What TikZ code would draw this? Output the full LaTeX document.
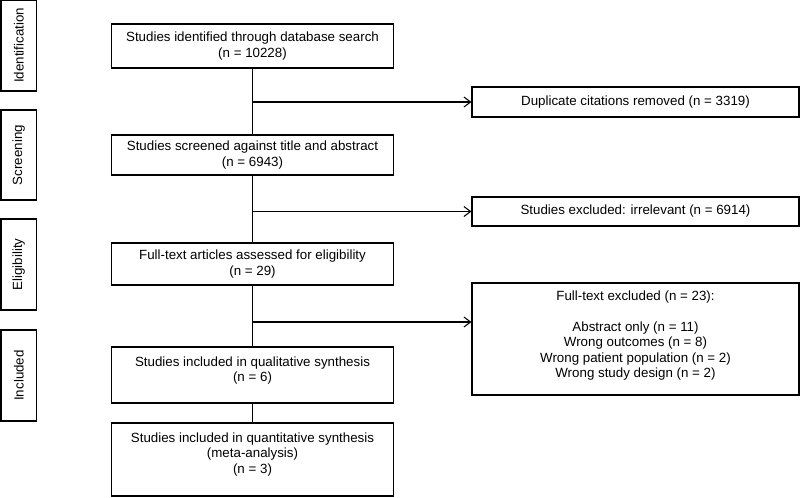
\documentclass[tikz,border=0pt]{standalone}
\usepackage{fontspec}
\setmainfont{Liberation Sans}
\usetikzlibrary{positioning,arrows.meta}
\begin{document}
\begin{tikzpicture}[x=0.75pt,y=-0.75pt,
	box/.style={draw, line width=0.8pt, align=center, inner sep=0pt, font=\fontsize{10}{11.5}\selectfont},
	phase/.style={box, rotate=90, minimum width=68.25pt, minimum height=26.6pt},
	mainbox/.style={box, minimum width=211.5pt},
	sidebox/.style={box, minimum width=245.25pt},
	flow/.style={line width=0.8pt},
	excl/.style={-{Straight Barb[length=5pt,width=7.5pt]}}]
	
	\useasboundingbox (0,0) rectangle (800,497);
	
	%Phasen links
	\node[phase] (idlab) at (18.75,45.5) {Identification};
	\node[phase, minimum width=67.5pt] (scrlab) at (18.75,155) {Screening};
	\node[phase] (elilab) at (18.75,264.5) {Eligibility};
	\node[phase] (inclab) at (18.75,375.5) {Included};
	
	%Hauptkette
	\node[mainbox, minimum height=33pt] (ident) at (252.5,46) {Studies identified through database search\\(n = 10228)};
	\node[mainbox, minimum height=30pt] (screen) at (252.5,155) {Studies screened against title and abstract\\(n = 6943)};
	\node[mainbox, minimum height=31.5pt] (full) at (252.5,264) {Full-text articles assessed for eligibility\\(n = 29)};
	\node[mainbox, minimum height=42pt] (qual) at (252.5,375) {Studies included in qualitative synthesis\\(n = 6)\rule[-9pt]{0pt}{0pt}};
	\node[mainbox, minimum height=54.75pt] (quant) at (252.5,459.5) {Studies included in quantitative synthesis\\(meta-analysis)\\(n = 3)\rule[-10pt]{0pt}{0pt}};
	
	%Ausschluesse rechts
	\node[sidebox, minimum height=22.5pt] (dup) at (635.5,102) {Duplicate citations removed (n = 3319)};
	\node[sidebox, minimum height=21.75pt] (irr) at (635.5,211.5) {Studies excluded: irrelevant (n = 6914)};
	\node[sidebox, minimum height=84pt] (fullex) at (635.5,339) {Full-text excluded (n = 23):\\[11.5pt]Abstract only (n = 11)\\Wrong outcomes (n = 8)\\Wrong patient population (n = 2)\\Wrong study design (n = 2)\rule[-7pt]{0pt}{0pt}};
	
	\coordinate (fork) at (252.5,322);
	
	%Linien
	\begin{scope}[flow]
	\draw (ident) -- (screen);
	\draw (screen) -- (full);
	\draw (full) -- (qual);
	\draw (qual) -- (quant);
	\draw[excl] (ident.south |- dup.west) -- (dup.west);
	\draw[excl] (screen.south |- irr.west) -- (irr.west);
	\draw[excl] (fork) -- (fork -| fullex.west);
	\end{scope}
	
\end{tikzpicture}
\end{document}
